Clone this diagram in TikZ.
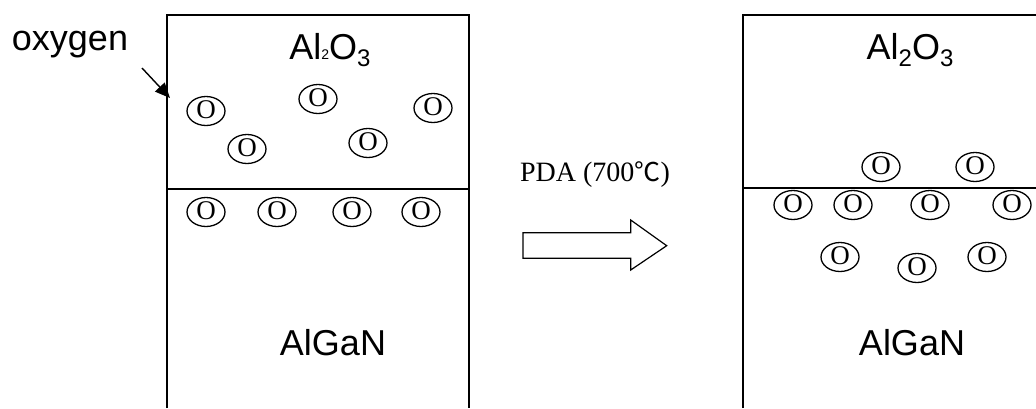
\documentclass[tikz,border=0pt]{standalone}
\usepackage{fontspec}
\setmainfont{Liberation Serif}
\newfontfamily\arial{Liberation Sans}
\newfontfamily\cjk{Noto Sans CJK SC}
\usetikzlibrary{shapes.geometric,arrows.meta}
\tikzset{
  layer/.style={line width=1.5pt},
  iface/.style={line width=1.2pt},
  ox/.style={draw, ellipse, line width=1.3pt, minimum width=38pt, minimum height=29pt, inner sep=0pt,
     font=\fontsize{27}{27}\selectfont, text height=15pt, text depth=0pt},
  label/.style={font=\arial\fontsize{36}{40}\selectfont, inner sep=0pt},
  blockarrow/.style={line width=1.2pt},
}
\begin{document}
\begin{tikzpicture}[x=1pt,y=-1pt]
\useasboundingbox (0,0) rectangle (1036,408);
% left stack
\draw[layer] (167,408) -- (167,15) -- (469,15) -- (469,408);
\draw[iface] (167,189) -- (469,189);
\node[label] (al2o3L) at (330,50) {Al{\fontsize{14}{14}\selectfont\raisebox{0pt}{2}}O{\fontsize{24}{24}\selectfont\raisebox{-7pt}{3}}};
\node[label] (alganL) at (333,343) {AlGaN};
\node[label, anchor=base] (oxy) at (70,50) {oxygen};
\coordinate (oxs) at (142,68);
\coordinate (oxe) at (170,98);
\draw[line width=1.4pt, -{Triangle[length=15pt,width=13pt]}] (oxs) -- (oxe);
% oxygen atoms in Al2O3 (left)
\node[ox] (a1) at (206,111) {O};
\node[ox] (a2) at (318,99) {O};
\node[ox] (a3) at (433,108) {O};
\node[ox] (a4) at (247,149) {O};
\node[ox] (a5) at (368,143) {O};
\node[ox] (b1) at (206,212) {O};
\node[ox] (b2) at (277,212) {O};
\node[ox] (b3) at (352,212) {O};
\node[ox] (b4) at (421,212) {O};
% process arrow
\node[font=\fontsize{28}{32}\selectfont, inner sep=0pt] (pda) at (595,175) {PDA (700{\cjk\fontsize{26}{30}\selectfont ℃})};
\draw[blockarrow] (523,232.7) -- (630.7,232.7) -- (630.7,220) -- (666.7,245.7) -- (630.7,270) -- (630.7,258.3) -- (523,258.3) -- cycle;
% right stack
\draw[layer] (743,408) -- (743,15) -- (1036,15);
\draw[iface] (743,188) -- (1036,188);
\node[label] (al2o3R) at (910,50) {Al{\fontsize{24}{24}\selectfont\raisebox{-7pt}{2}}O{\fontsize{24}{24}\selectfont\raisebox{-7pt}{3}}};
\node[label] (alganR) at (912,343) {AlGaN};
\node[ox] (c1) at (881,167) {O};
\node[ox] (c2) at (975,167) {O};
\node[ox] (d1) at (793,205) {O};
\node[ox] (d2) at (853,205) {O};
\node[ox] (d3) at (930,205) {O};
\node[ox] (d4) at (1012,205) {O};
\node[ox] (e1) at (840,257) {O};
\node[ox] (e2) at (917,268) {O};
\node[ox] (e3) at (987,257) {O};
\end{tikzpicture}
\end{document}
